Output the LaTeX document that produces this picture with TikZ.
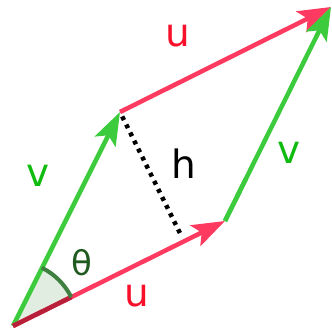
\documentclass[tikz,border=0pt]{standalone}
\usepackage{fontspec}
\setmainfont{DejaVu Sans}
\usetikzlibrary{arrows.meta,calc}
\definecolor{ured}{HTML}{FF3A60}
\definecolor{vgreen}{HTML}{3CCB3C}
\definecolor{labelred}{HTML}{F8102A}
\definecolor{labelgreen}{HTML}{10BB10}
\definecolor{darkred}{HTML}{B8203A}
\definecolor{arcgreen}{HTML}{3F7F3F}
\definecolor{anglefill}{HTML}{E2EDE2}
\definecolor{thetagreen}{HTML}{1F5A1F}
\tikzset{
  vec/.style={line width=4.5pt,-{Stealth[length=33pt,width=23pt,inset=7pt]}},
  uvec/.style={vec,ured},
  vvec/.style={vec,vgreen},
  lbl/.style={inner sep=0pt,font=\fontsize{39}{39}\selectfont},
}
\begin{document}
\begin{tikzpicture}[x=1pt,y=1pt]
\useasboundingbox (0,0) rectangle (332,333);
\coordinate (O) at (13,7);
\coordinate (A) at (225,112);
\coordinate (B) at (120,221);
\coordinate (C) at (331,326);
\coordinate (F) at ($(O)!(B)!(A)$);
% angle sector
\fill[anglefill] (O) -- ++(26.35:65pt) arc[start angle=26.35,end angle=63.65,radius=65pt] -- cycle;
% vectors
\draw[vvec] (O) -- (B);
\draw[uvec] (O) -- (A);
\draw[vgreen,line width=4.5pt] (A) -- ($(A)!0.2!(C)$);
\draw[uvec] (B) -- (C);
\draw[vvec] (A) -- (C);
% angle marks
\draw[darkred,line width=4.5pt] (O) -- ($(O)!65pt!(A)$);
\draw[arcgreen,line width=4pt] ($(O)+(26.35:65pt)$) arc[start angle=26.35,end angle=63.65,radius=65pt];
% height
\draw[black,line width=4.5pt,dash pattern=on 4pt off 5pt,shorten <=5pt,shorten >=9pt] (B) -- (F);
% labels
\node[lbl,labelred] (ut) at (177.5,297.5) {u};
\node[lbl,labelred] (ub) at (136.5,37) {u};
\node[lbl,labelgreen] (vl) at (38,157) {v};
\node[lbl,labelgreen] (vr) at (289,180) {v};
\node[lbl,black] (h) at (183.5,169) {h};
\node[inner sep=0pt,thetagreen,font=\fontsize{34}{34}\selectfont] (th) at (81.5,70.5) {θ};
\end{tikzpicture}
\end{document}
